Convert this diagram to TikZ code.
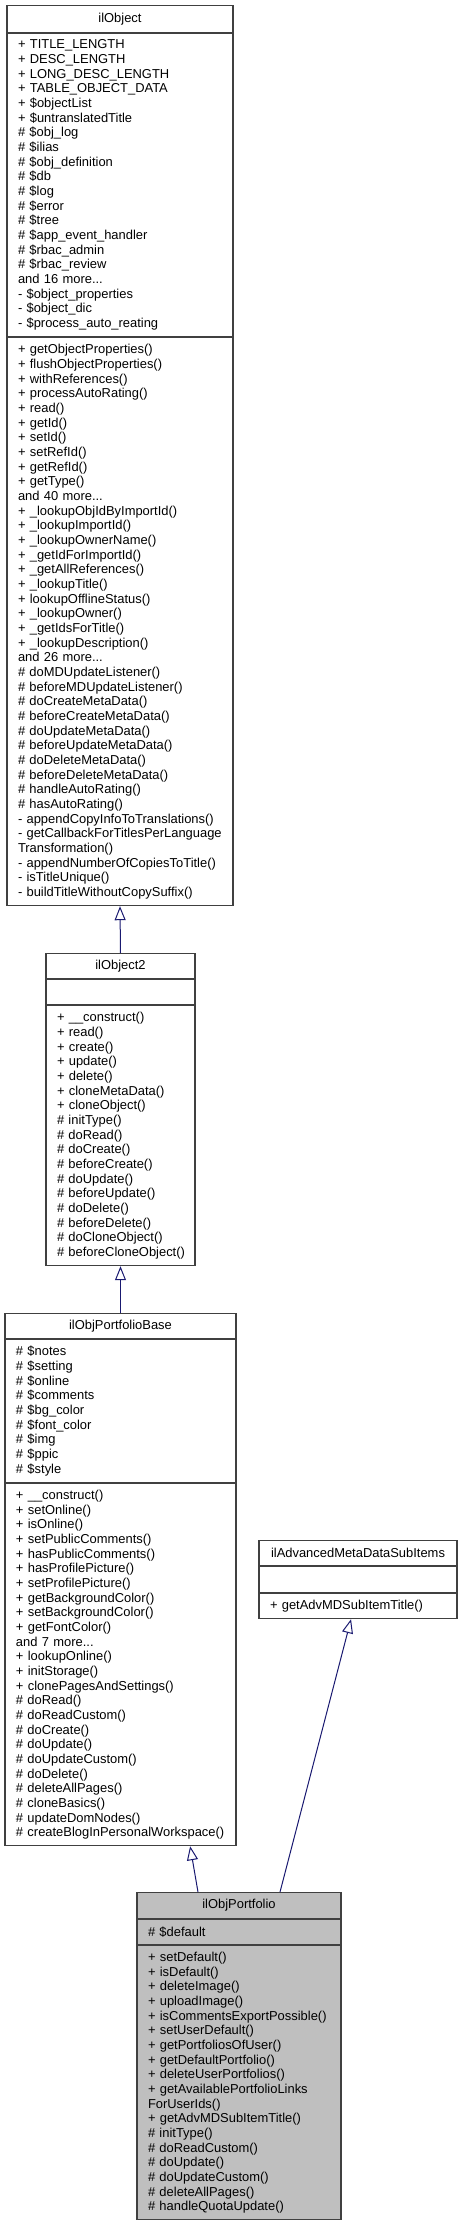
\documentclass[tikz,border=0pt]{standalone}
\usepackage{fontspec}
\setmainfont{Liberation Sans}
\usepackage{tikz}
\usetikzlibrary{calc,positioning,arrows.meta}

\definecolor{edgeblue}{HTML}{191970}
\definecolor{boxline}{HTML}{404040}
\definecolor{fillgray}{HTML}{BFBFBF}

\newcommand\nohyphs{\hyphenpenalty=10000\relax\exhyphenpenalty=10000\relax}

\tikzset{
  classtitle/.style={draw=boxline, line width=0.8pt, fill=white, inner sep=0pt,
    font=\fontsize{9.7}{11}\selectfont},
  members/.style={draw=boxline, line width=0.8pt, fill=white, align=left,
    inner xsep=8.25pt, inner ysep=0pt,
    font=\fontsize{9.7}{11}\selectfont, execute at begin node=\nohyphs},
  inherit/.style={draw=edgeblue, line width=0.75pt,
    -{Triangle[open, length=10.5pt, width=8.25pt]}}
}

\begin{document}
\begin{tikzpicture}[x=0.75pt, y=-0.75pt]

  \useasboundingbox (0,0) rectangle (464,2224);

  % ilObject
  \node[classtitle, minimum width=169.5pt, minimum height=20.25pt, anchor=north] (objT) at (120,5) {ilObject};
  \node[members, text width=153pt, minimum height=227.25pt, below=0pt of objT] (objA) {%
    + TITLE\_LENGTH\\+ DESC\_LENGTH\\+ LONG\_DESC\_LENGTH\\+ TABLE\_OBJECT\_DATA\\%
    + \$objectList\\+ \$untranslatedTitle\\\# \$obj\_log\\\# \$ilias\\%
    \# \$obj\_definition\\\# \$db\\\# \$log\\\# \$error\\\# \$tree\\%
    \# \$app\_event\_handler\\\# \$rbac\_admin\\\# \$rbac\_review\\and 16 more...\\%
    - \$object\_properties\\- \$object\_dic\\- \$process\_auto\_reating};
  \node[members, text width=153pt, minimum height=426pt, below=0pt of objA] (objO) {%
    + getObjectProperties()\\+ flushObjectProperties()\\+ withReferences()\\%
    + processAutoRating()\\+ read()\\+ getId()\\+ setId()\\+ setRefId()\\%
    + getRefId()\\+ getType()\\and 40 more...\\+ \_lookupObjIdByImportId()\\%
    + \_lookupImportId()\\+ \_lookupOwnerName()\\+ \_getIdForImportId()\\%
    + \_getAllReferences()\\+ \_lookupTitle()\\+ lookupOfflineStatus()\\%
    + \_lookupOwner()\\+ \_getIdsForTitle()\\+ \_lookupDescription()\\and 26 more...\\%
    \# doMDUpdateListener()\\\#~beforeMDUpdateListener()\\\# doCreateMetaData()\\%
    \# beforeCreateMetaData()\\\# doUpdateMetaData()\\\# beforeUpdateMetaData()\\%
    \# doDeleteMetaData()\\\# beforeDeleteMetaData()\\\# handleAutoRating()\\%
    \# hasAutoRating()\\-~appendCopyInfoToTranslations()\\%
    -~getCallbackForTitlesPerLanguage\\Transformation()\\%
    -~appendNumberOfCopiesToTitle()\\- isTitleUnique()\\-~buildTitleWithoutCopySuffix()};

  % ilObject2
  \node[classtitle, minimum width=111.75pt, minimum height=18.75pt, anchor=north] (obj2T) at (120.5,953) {ilObject2};
  \node[members, text width=95.25pt, minimum height=18.75pt, below=0pt of obj2T] (obj2A) {};
  \node[members, text width=95.25pt, minimum height=195pt, below=0pt of obj2A] (obj2O) {%
    + \_\_construct()\\+ read()\\+ create()\\+ update()\\+ delete()\\%
    + cloneMetaData()\\+ cloneObject()\\\# initType()\\\# doRead()\\\# doCreate()\\%
    \# beforeCreate()\\\# doUpdate()\\\# beforeUpdate()\\\# doDelete()\\%
    \# beforeDelete()\\\#~doCloneObject()\\\#~beforeCloneObject()};

  % ilObjPortfolioBase
  \node[classtitle, minimum width=173.25pt, minimum height=18.75pt, anchor=north] (baseT) at (120.5,1313) {ilObjPortfolioBase};
  \node[members, text width=156.75pt, minimum height=107.25pt, below=0pt of baseT] (baseA) {%
    \# \$notes\\\# \$setting\\\# \$online\\\# \$comments\\\# \$bg\_color\\%
    \# \$font\_color\\\# \$img\\\# \$ppic\\\# \$style};
  \node[members, text width=156.75pt, minimum height=271.5pt, below=0pt of baseA] (baseO) {%
    + \_\_construct()\\+ setOnline()\\+ isOnline()\\+ setPublicComments()\\%
    + hasPublicComments()\\+ hasProfilePicture()\\+ setProfilePicture()\\%
    + getBackgroundColor()\\+ setBackgroundColor()\\+ getFontColor()\\and 7 more...\\%
    + lookupOnline()\\+ initStorage()\\+~clonePagesAndSettings()\\\# doRead()\\%
    \# doReadCustom()\\\# doCreate()\\\# doUpdate()\\\# doUpdateCustom()\\%
    \# doDelete()\\\# deleteAllPages()\\\# cloneBasics()\\\# updateDomNodes()\\%
    \#~createBlogInPersonalWorkspace()};

  % ilAdvancedMetaDataSubItems
  \node[classtitle, minimum width=148.5pt, minimum height=18.75pt, anchor=north] (advT) at (358,1540) {ilAdvancedMetaDataSubItems};
  \node[members, text width=132pt, minimum height=19.5pt, below=0pt of advT] (advA) {};
  \node[members, text width=132pt, minimum height=18.75pt, below=0pt of advA] (advO) {+~getAdvMDSubItemTitle()};

  % ilObjPortfolio
  \node[classtitle, fill=fillgray, minimum width=153pt, minimum height=19.5pt, anchor=north] (pfT) at (239,1892) {ilObjPortfolio};
  \node[members, fill=fillgray, text width=136.5pt, minimum height=18.75pt, below=0pt of pfT] (pfA) {\# \$default};
  \node[members, fill=fillgray, text width=136.5pt, minimum height=205.5pt, below=0pt of pfA] (pfO) {%
    + setDefault()\\+ isDefault()\\+ deleteImage()\\+ uploadImage()\\%
    +~isCommentsExportPossible()\\+ setUserDefault()\\+ getPortfoliosOfUser()\\%
    + getDefaultPortfolio()\\+~deleteUserPortfolios()\\+~getAvailablePortfolioLinks\\%
    ForUserIds()\\+~getAdvMDSubItemTitle()\\\# initType()\\\# doReadCustom()\\%
    \# doUpdate()\\\# doUpdateCustom()\\\# deleteAllPages()\\\# handleQuotaUpdate()};

  % inheritance
  \draw[inherit] (obj2T.north) -- (objO.south);
  \draw[inherit] (baseT.north) -- (obj2O.south);
  \draw[inherit] ($(pfT.north west)!0.3!(pfT.north east)$) -- ($(baseO.south west)!0.8!(baseO.south east)$);
  \draw[inherit] ($(pfT.north west)!0.7!(pfT.north east)$) -- ($(advO.south west)!0.465!(advO.south east)$);

\end{tikzpicture}
\end{document}
